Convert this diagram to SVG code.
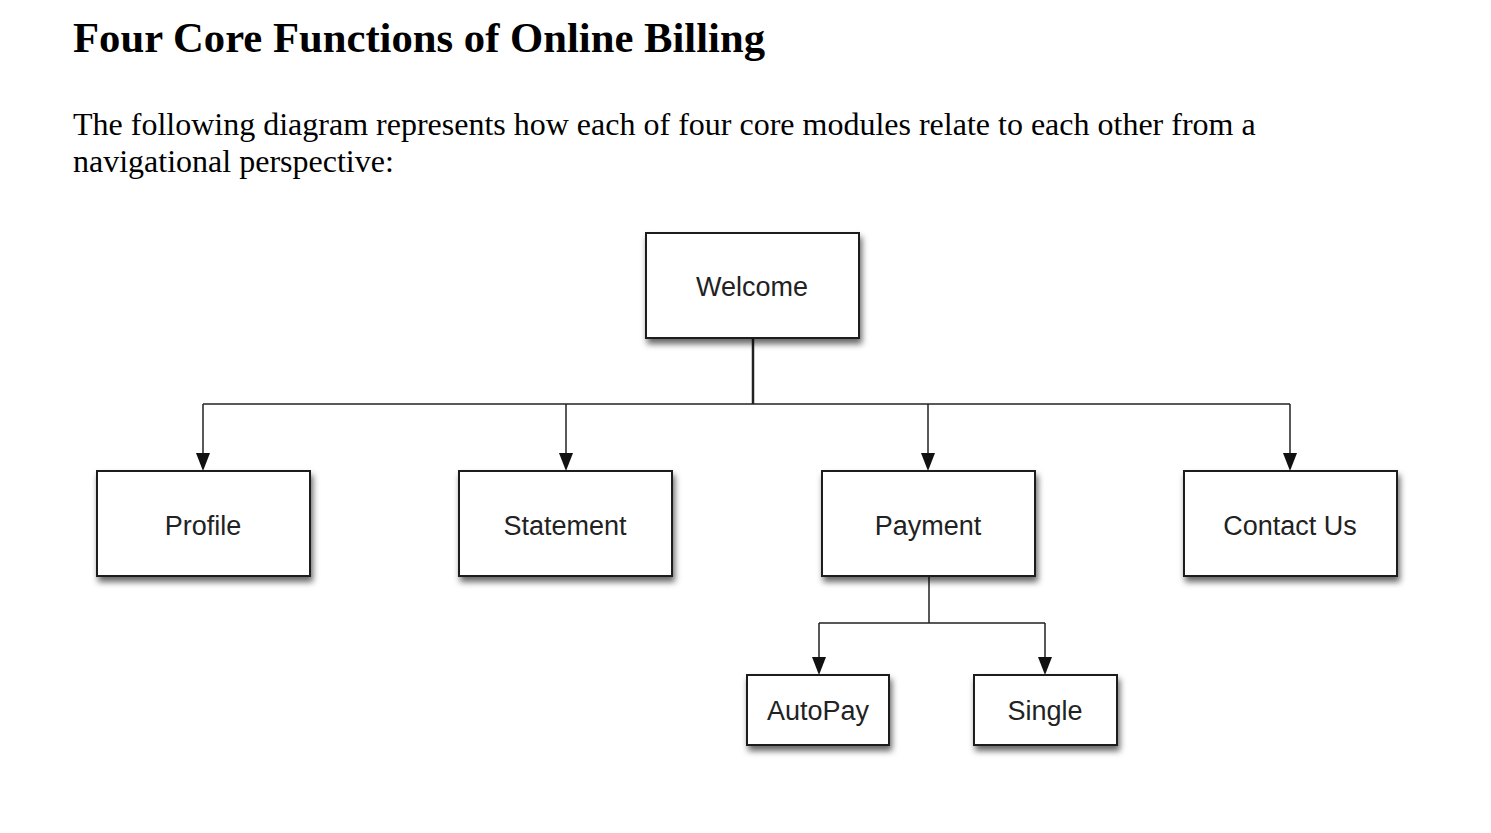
<svg xmlns="http://www.w3.org/2000/svg" width="1491" height="833" viewBox="0 0 1491 833">
<style>
.title{font-family:"Liberation Serif",serif;font-weight:bold;font-size:42px;fill:#000}
.para{font-family:"Liberation Serif",serif;font-size:32px;fill:#000}
.box{fill:#fff;stroke:#1a1a1a;stroke-width:2}
.lbl{font-family:"Liberation Sans",Arial,sans-serif;font-size:27px;fill:#222;text-anchor:middle}
.conn{fill:none;stroke:#222;stroke-width:1.5}
.head{fill:#111}
</style>
<defs>
<filter id="sh" x="-10%" y="-10%" width="130%" height="140%">
<feDropShadow dx="2" dy="5" stdDeviation="3" flood-color="#000" flood-opacity="0.6"/>
</filter>
</defs>
<rect width="1491" height="833" fill="#fff"/>
<text class="title" x="73" y="52" textLength="692" lengthAdjust="spacingAndGlyphs">Four Core Functions of Online Billing</text>
<text class="para" x="73" y="135">The following diagram represents how each of four core modules relate to each other from a</text>
<text class="para" x="73" y="172">navigational perspective:</text>
<g id="connectors">
<path class="conn" d="M753,338 V404" style="stroke-width:2.5"/>
<path class="conn" d="M203,404 H1290"/>
<path class="conn" d="M203,404 V456"/>
<path class="head" d="M196,453 L210,453 L203,471 Z"/>
<path class="conn" d="M566,404 V456"/>
<path class="head" d="M559,453 L573,453 L566,471 Z"/>
<path class="conn" d="M928,404 V456"/>
<path class="head" d="M921,453 L935,453 L928,471 Z"/>
<path class="conn" d="M1290,404 V456"/>
<path class="head" d="M1283,453 L1297,453 L1290,471 Z"/>
<path class="conn" d="M929,576 V623 M819,623 H1045 M819,623 V660 M1045,623 V660"/>
<path class="head" d="M812,657 L826,657 L819,675 Z"/>
<path class="head" d="M1038,657 L1052,657 L1045,675 Z"/>
</g>
<g id="welcome"><rect class="box" filter="url(#sh)" x="646" y="233" width="213" height="105"/><text class="lbl" x="752" y="296">Welcome</text></g>
<g id="profile"><rect class="box" filter="url(#sh)" x="97" y="471" width="213" height="105"/><text class="lbl" x="203" y="535">Profile</text></g>
<g id="statement"><rect class="box" filter="url(#sh)" x="459" y="471" width="213" height="105"/><text class="lbl" x="565" y="535">Statement</text></g>
<g id="payment"><rect class="box" filter="url(#sh)" x="822" y="471" width="213" height="105"/><text class="lbl" x="928" y="535">Payment</text></g>
<g id="contact"><rect class="box" filter="url(#sh)" x="1184" y="471" width="213" height="105"/><text class="lbl" x="1290" y="535">Contact Us</text></g>
<g id="autopay"><rect class="box" filter="url(#sh)" x="747" y="675" width="142" height="70"/><text class="lbl" x="818" y="720">AutoPay</text></g>
<g id="single"><rect class="box" filter="url(#sh)" x="974" y="675" width="143" height="70"/><text class="lbl" x="1045" y="720">Single</text></g>
</svg>
